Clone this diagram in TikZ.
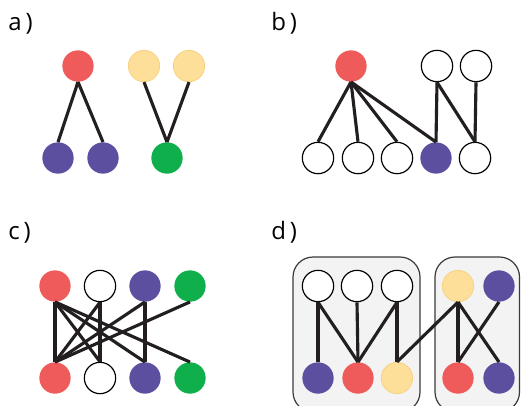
\documentclass[tikz,border=0pt]{standalone}
\usepackage{fontspec}
\setmainfont{Open Sans}
\definecolor{vred}{HTML}{EF5B5B}
\definecolor{vyellow}{HTML}{FDDF99}
\definecolor{vyellowedge}{HTML}{F7D282}
\definecolor{vpurple}{HTML}{5D4FA0}
\definecolor{vgreen}{HTML}{0FB04C}
\definecolor{edgeink}{HTML}{231F20}
\definecolor{groupfill}{HTML}{F3F3F3}
\definecolor{groupline}{HTML}{3A3A3A}
\begin{document}
\begin{tikzpicture}[x=0.75pt,y=-0.75pt,
  vtx/.style={circle, minimum size=23.5pt, inner sep=0pt},
  red/.style={vtx, fill=vred},
  yel/.style={vtx, fill=vyellow, draw=vyellowedge, line width=0.6pt},
  pur/.style={vtx, fill=vpurple},
  grn/.style={vtx, fill=vgreen},
  wht/.style={vtx, fill=white, draw=black, line width=0.9pt},
  link/.style={draw=edgeink, line width=2.35pt},
  group/.style={draw=groupline, fill=groupfill, line width=0.9pt, rounded corners=15pt},
  panel/.style={anchor=base west, font=\fontsize{18}{21}\selectfont}]
\useasboundingbox (0,0) rectangle (521,405);

% panel labels
\node[panel, inner sep=0pt] (la) at (8,30) {a\,)};
\node[panel, inner sep=0pt] (lb) at (271,30) {b\,)};
\node[panel, inner sep=0pt] (lc) at (8,239) {c\,)};
\node[panel, inner sep=0pt] (ld) at (271,239) {d\,)};

% a) two small trees
\node[red] (a1) at (78,66) {};
\node[yel] (a2) at (144,66) {};
\node[yel] (a3) at (189,66) {};
\node[pur] (a4) at (58,158) {};
\node[pur] (a5) at (103,158) {};
\node[grn] (a6) at (167,158) {};
\draw[link] (a1.south) -- (a4.north);
\draw[link] (a1.south) -- (a5.north);
\draw[link] (a2.south) -- (a6.north);
\draw[link] (a3.south) -- (a6.north);

% b) one red hub with uncoloured neighbours
\node[red] (b1) at (351,66) {};
\node[wht] (b2) at (437,66) {};
\node[wht] (b3) at (476,66) {};
\node[wht] (b4) at (318,158) {};
\node[wht] (b5) at (358,158) {};
\node[wht] (b6) at (397,158) {};
\node[pur] (b7) at (436,158) {};
\node[wht] (b8) at (475,158) {};
\draw[link] (b1.south) -- (b4.north);
\draw[link] (b1.south) -- (b5.north);
\draw[link] (b1.south) -- (b6.north);
\draw[link] (b1.south) -- (b7.north);
\draw[link] (b2.south) -- (b7.north);
\draw[link] (b2.south) -- (b8.north);
\draw[link] (b3.south) -- (b8.north);

% c) crossed bipartite graph
\node[red] (c1) at (55,286) {};
\node[wht] (c2) at (100,286) {};
\node[pur] (c3) at (145,286) {};
\node[grn] (c4) at (190,286) {};
\node[red] (c5) at (55,378) {};
\node[wht] (c6) at (100,378) {};
\node[pur] (c7) at (145,378) {};
\node[grn] (c8) at (190,378) {};
\draw[link] (c1.south) -- (c5.north);
\draw[link] (c1.south) -- (c6.north);
\draw[link] (c1.south) -- (c7.north);
\draw[link] (c1.south) -- (c8.north);
\draw[link] (c2.south) -- (c5.north);
\draw[link] (c2.south) -- (c6.north);
\draw[link] (c3.south) -- (c5.north);
\draw[link] (c3.south) -- (c7.north);
\draw[link] (c4.south) -- (c5.north);

% d) two grouped components
\begin{scope}
  \clip (0,0) rectangle (521,405);
  \path[group] (293,257) rectangle (420,412);
  \path[group] (435,257) rectangle (519.5,412);
\end{scope}
\node[wht] (d1) at (318,286) {};
\node[wht] (d2) at (357,286) {};
\node[wht] (d3) at (397,286) {};
\node[yel] (d4) at (458,286) {};
\node[pur] (d5) at (499,286) {};
\node[pur] (d6) at (318,378) {};
\node[red] (d7) at (358,378) {};
\node[yel] (d8) at (397,378) {};
\node[red] (d9) at (458,378) {};
\node[pur] (d10) at (499,378) {};
\draw[link] (d1.south) -- (d6.north);
\draw[link] (d1.south) -- (d7.north);
\draw[link] (d2.south) -- (d7.north);
\draw[link] (d3.south) -- (d7.north);
\draw[link] (d3.south) -- (d8.north);
\draw[link] (d4.south) -- (d8.north);
\draw[link] (d4.south) -- (d9.north);
\draw[link] (d4.south) -- (d10.north);
\draw[link] (d5.south) -- (d9.north);
\end{tikzpicture}
\end{document}
